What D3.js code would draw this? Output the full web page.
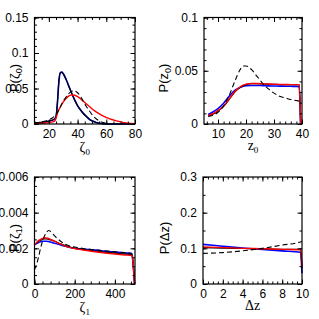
<!DOCTYPE html>
<html>
<head>
<meta charset="utf-8">
<script src="https://cdn.jsdelivr.net/npm/d3@7"></script>
<style>
  body { margin: 0; background: #fff; }
  svg { display: block; }
  .tick text { font-family: "Liberation Sans", Arial, sans-serif; }
</style>
</head>
<body>
<div id="chart"></div>
<script>
// panel 1: P(zeta0)
const zeta0X = [10,15,20,24,25,26,27,28,29,30,32,34,36,38,40,42,44,46,48,50,52,55,58,62,67,70,75,80];
const zeta0Blue = [0.001,0.002,0.004,0.007,0.010,0.030,0.060,0.072,0.073,0.071,0.063,0.053,0.043,0.034,0.026,0.020,0.015,0.011,0.007,0.0045,0.0028,0.001,0.0003,0,0,0,0,0];
const zeta0Black = [0.0012,0.0022,0.0042,0.0072,0.011,0.032,0.061,0.0725,0.0728,0.0705,0.0625,0.0525,0.0425,0.0335,0.0258,0.0198,0.0148,0.0108,0.0072,0.0046,0.0028,0.0011,0.0003,0,0,0,0,0];
const zeta0Red = [0.0005,0.001,0.002,0.004,0.008,0.016,0.020,0.024,0.028,0.031,0.036,0.0395,0.041,0.0405,0.0385,0.0355,0.032,0.0285,0.025,0.0215,0.0185,0.0145,0.011,0.0075,0.0045,0.003,0.0013,0.0004];
const zeta0Dash = [0.001,0.003,0.006,0.011,0.013,0.016,0.020,0.024,0.028,0.032,0.038,0.043,0.046,0.0465,0.044,0.039,0.032,0.025,0.019,0.0135,0.009,0.0045,0.002,0.0005,null,null,null,null];
const zeta0Ticks = [20,40,60,80];
const zeta0YTicks = [0,0.05,0.1,0.15];

// panel 2: P(z0)
const z0X = [6.5,8,10,12,14,16,18,19,20,22,24,26,28,30,32,34,36,38,39,39.5];
const z0Blue = [0.009,0.011,0.0145,0.0195,0.026,0.0315,0.0345,0.0355,0.036,0.0362,0.0362,0.036,0.0358,0.0357,0.0356,0.0355,0.0354,0.0353,0.035,0];
const z0Black = [0.0075,0.009,0.012,0.0165,0.023,0.030,0.0345,0.036,0.037,0.0378,0.0378,0.0376,0.0374,0.0372,0.0371,0.037,0.037,0.037,0.037,0];
const z0Red = [0.008,0.0095,0.0125,0.017,0.0235,0.0305,0.035,0.0365,0.0375,0.038,0.038,0.0378,0.0375,0.0373,0.0372,0.0371,0.037,0.037,0.037,0];
const z0Dash = [0.007,0.008,0.011,0.017,0.027,0.040,0.0515,0.0545,0.0545,0.051,0.0445,0.038,0.033,0.029,0.026,0.0245,0.023,0.022,0.0215,null];
const z0Ticks = [10,20,30,40];
const z0YTicks = [0,0.05,0.1];

// panel 3: P(zeta1)
const zeta1X = [0,10,20,30,40,50,60,70,80,100,130,160,200,250,300,350,400,450,485,490,498];
const zeta1Blue = [0.0022,0.00227,0.00233,0.00237,0.0024,0.0024,0.0024,0.00238,0.00235,0.00229,0.00219,0.0021,0.002,0.00195,0.0019,0.00184,0.00179,0.00174,0.0017,0.0012,0];
const zeta1Black = [0.0022,0.0023,0.0024,0.00245,0.0025,0.00253,0.00253,0.0025,0.00247,0.0024,0.00225,0.00212,0.002,0.00192,0.00185,0.00179,0.00173,0.00168,0.00165,0.0012,0];
const zeta1Red = [0.0022,0.00232,0.00243,0.0025,0.00255,0.00258,0.00258,0.00255,0.0025,0.0024,0.00224,0.0021,0.00198,0.00189,0.00181,0.00174,0.00168,0.00163,0.0016,0.0012,0];
const zeta1Dash = [0.0008,0.0011,0.0015,0.002,0.0024,0.0027,0.0029,0.003,0.00295,0.0027,0.0024,0.0022,0.00207,0.00198,0.00192,0.00186,0.00181,0.00176,0.00172,null,null];
const zeta1Ticks = [0,200,400];
const zeta1YTicks = [0,0.002,0.004,0.006];

// panel 4: P(dz)
const dzX = [0,2,4,6,8,9.85,10];
const dzBlue = [0.111,0.106,0.101,0.097,0.093,0.089,0.03];
const dzBlack = [0.102,0.1005,0.0995,0.0985,0.0975,0.097,0.045];
const dzRed = [0.104,0.102,0.100,0.099,0.097,0.096,0.05];
const dzDash = [0.086,0.088,0.093,0.100,0.109,0.118,0.12];
const dzTicks = [0,2,4,6,8,10];
const dzYTicks = [0,0.1,0.2,0.3];

const panels = [
  {box:[34.5,135,17.5,124], xd:[10,80], yd:[0,0.15], x:zeta0X,
   series:[zeta0Blue,zeta0Black,zeta0Red,zeta0Dash], xt:zeta0Ticks, yt:zeta0YTicks,
   xminor:5, yminor:0.01, yfmt:d=>d===0?"0":String(d),
   xlab:["ζ","0"], xlabY:152, ylab:["P(ζ","0",")"], ylabX:19, ylabY:78},
  {box:[204,302,17.5,124], xd:[5,40], yd:[0,0.1], x:z0X,
   series:[z0Blue,z0Black,z0Red,z0Dash], xt:z0Ticks, yt:z0YTicks,
   xminor:2, yminor:0.01, yfmt:d=>String(d),
   xlab:["z","0"], xlabY:150, ylab:["P(z","0",")"], ylabX:168, ylabY:78},
  {box:[34.5,135,177,284], xd:[0,500], yd:[0,0.006], x:zeta1X,
   series:[zeta1Blue,zeta1Black,zeta1Red,zeta1Dash], xt:zeta1Ticks, yt:zeta1YTicks,
   xminor:40, yminor:0.0005, yfmt:d=>d===0?"0":d.toFixed(3),
   xlab:["ζ","1"], xlabY:312, ylab:["P(ζ","1",")"], ylabX:19, ylabY:238},
  {box:[203,302,177,284], xd:[0,10], yd:[0,0.3], x:dzX,
   series:[dzBlue,dzBlack,dzRed,dzDash], xt:dzTicks, yt:dzYTicks,
   xminor:0.5, yminor:0.05, yfmt:d=>d===0?"0":d.toFixed(1),
   xlab:["Δz",""], xlabY:310, ylab:["P(Δz)","",""], ylabX:169, ylabY:238}
];

const styles = [
  {color:"#0000ff", width:1.6, dash:null},
  {color:"#000000", width:1.2, dash:null},
  {color:"#ff0000", width:1.4, dash:null},
  {color:"#000000", width:1.1, dash:"5,3"}
];

const svg = d3.select("#chart").append("svg")
  .attr("width",319).attr("height",319);

panels.forEach(p => {
  const [x0,x1,y0,y1] = p.box;
  const x = d3.scaleLinear().domain(p.xd).range([x0,x1]);
  const y = d3.scaleLinear().domain(p.yd).range([y1,y0]);
  const g = svg.append("g");

  // curves
  p.series.forEach((vals,i) => {
    const pts = p.x.map((xv,j) => [xv, vals[j]]);
    const line = d3.line()
      .defined(d => d[1] !== null)
      .x(d => x(d[0])).y(d => y(d[1]))
      .curve(d3.curveMonotoneX);
    const s = styles[i];
    g.append("path")
      .attr("d", line(pts))
      .attr("fill","none")
      .attr("stroke", s.color)
      .attr("stroke-width", s.width)
      .attr("stroke-dasharray", s.dash)
      .attr("stroke-linejoin","round");
  });

  // minor ticks
  const eps = 1e-9;
  const xMinor = d3.range(Math.ceil(p.xd[0]/p.xminor)*p.xminor, p.xd[1]+eps, p.xminor);
  const yMinor = d3.range(p.yd[0], p.yd[1]+eps/1000, p.yminor);
  const addAxis = (axisFn, scale, tr, vals, size, labels) => {
    const a = axisFn(scale).tickValues(vals).tickSizeInner(size).tickSizeOuter(0);
    if (!labels) a.tickFormat("");
    const ag = g.append("g").attr("transform", tr).call(a);
    ag.select(".domain").remove();
    ag.selectAll(".tick line").attr("stroke","#000").attr("stroke-width",1);
    return ag;
  };
  addAxis(d3.axisBottom, x, `translate(0,${y1})`, xMinor, -2.5, false);
  addAxis(d3.axisTop, x, `translate(0,${y0})`, xMinor, -2.5, false);
  addAxis(d3.axisLeft, y, `translate(${x0},0)`, yMinor, -2.5, false);
  addAxis(d3.axisRight, y, `translate(${x1},0)`, yMinor, -2.5, false);

  const xb = addAxis(d3.axisBottom, x, `translate(0,${y1})`, p.xt, -4.5, true);
  xb.selectAll(".tick text").attr("y", 14).attr("dy", 0)
    .attr("font-size", 12).attr("fill","#000");
  addAxis(d3.axisTop, x, `translate(0,${y0})`, p.xt, -4.5, false);
  const yl = addAxis(d3.axisLeft, y, `translate(${x0},0)`, p.yt, -4.5, true);
  yl.selectAll(".tick text").attr("x", -6).attr("font-size", 12).attr("fill","#000")
    .text(d => p.yfmt(d));
  addAxis(d3.axisRight, y, `translate(${x1},0)`, p.yt, -4.5, false);

  // frame
  g.append("rect")
    .attr("x",x0).attr("y",y0).attr("width",x1-x0).attr("height",y1-y0)
    .attr("fill","none").attr("stroke","#000").attr("stroke-width",1.2);

  // x title
  const xt = g.append("text")
    .attr("x",(x0+x1)/2).attr("y",p.xlabY)
    .attr("text-anchor","middle")
    .attr("font-family","'Liberation Serif', serif")
    .attr("font-size",14);
  xt.append("tspan").text(p.xlab[0]);
  if (p.xlab[1]) xt.append("tspan").attr("dy",3).attr("font-size",9).text(p.xlab[1]);

  // y title
  const yt = g.append("text")
    .attr("transform",`translate(${p.ylabX},${p.ylabY}) rotate(-90)`)
    .attr("text-anchor","middle")
    .attr("font-family","'Liberation Sans', Arial, sans-serif")
    .attr("font-size",13);
  yt.append("tspan").text(p.ylab[0]);
  if (p.ylab[1]) {
    yt.append("tspan").attr("dy",3).attr("font-size",9).text(p.ylab[1]);
    yt.append("tspan").attr("dy",-3).text(p.ylab[2]);
  }
});
</script>
</body>
</html>
